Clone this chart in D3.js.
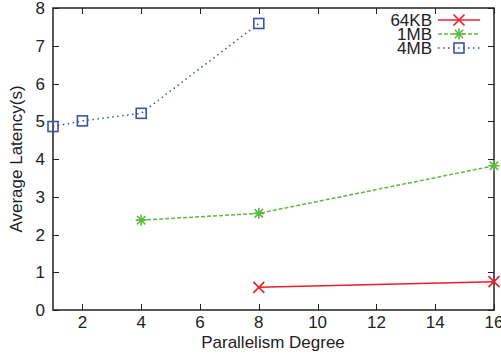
<!DOCTYPE html>
<html><head><meta charset="utf-8">
<script src="https://cdn.jsdelivr.net/npm/d3@7"></script>
<style>body{margin:0;background:#fff}svg{display:block}</style>
</head><body><svg id="c" width="501" height="357"></svg>
<script>
const seriesNames = ["64KB", "1MB", "4MB"];
const x64KB = [8, 16];
const y64KB = [0.60, 0.75];
const x1MB = [4, 8, 16];
const y1MB = [2.38, 2.56, 3.82];
const x4MB = [1, 2, 4, 8];
const y4MB = [4.86, 5.01, 5.21, 7.59];
const xTicks = [2, 4, 6, 8, 10, 12, 14, 16];
const yTicks = [0, 1, 2, 3, 4, 5, 6, 7, 8];

const colors = {"64KB": "#ec1f27", "1MB": "#5eb940", "4MB": "#3a55a8"};
const dashes = {"64KB": null, "1MB": "4,2", "4MB": "1.5,3.5"};
const markers = {"64KB": "x", "1MB": "star", "4MB": "square"};
const data = {
  "64KB": x64KB.map((x, i) => ({x, y: y64KB[i]})),
  "1MB": x1MB.map((x, i) => ({x, y: y1MB[i]})),
  "4MB": x4MB.map((x, i) => ({x, y: y4MB[i]}))
};

const svg = d3.select("#c");
const font = "'Liberation Sans', Arial, Helvetica, sans-serif";
const fs = 17;
const L = 53, R = 494, T = 8, B = 310;
const xs = d3.scaleLinear().domain([1, 16]).range([L, R]);
const ys = d3.scaleLinear().domain([0, 8]).range([B, T]);

const tl = 6;
const tg = svg.append("g").attr("stroke", "#222").attr("stroke-width", 1);
xTicks.forEach(t => {
  const x = Math.round(xs(t)) + 0.5;
  tg.append("line").attr("x1", x).attr("x2", x).attr("y1", B).attr("y2", B - tl);
  tg.append("line").attr("x1", x).attr("x2", x).attr("y1", T).attr("y2", T + tl);
});
yTicks.forEach(t => {
  const y = Math.round(ys(t)) + 0.5;
  tg.append("line").attr("x1", L).attr("x2", L + tl).attr("y1", y).attr("y2", y);
  tg.append("line").attr("x1", R).attr("x2", R - tl).attr("y1", y).attr("y2", y);
});
svg.append("rect").attr("x", L).attr("y", T).attr("width", R - L).attr("height", B - T)
  .attr("fill", "none").attr("stroke", "#222").attr("stroke-width", 1.5);

svg.append("g").selectAll("text").data(xTicks).join("text")
  .attr("x", d => xs(d)).attr("y", 328).attr("text-anchor", "middle")
  .attr("font-family", font).attr("font-size", fs).attr("fill", "#222").text(d => d);
svg.append("g").selectAll("text").data(yTicks).join("text")
  .attr("x", 45).attr("y", d => ys(d) + 6).attr("text-anchor", "end")
  .attr("font-family", font).attr("font-size", fs).attr("fill", "#222").text(d => d);

svg.append("text").attr("x", 273).attr("y", 347.5).attr("text-anchor", "middle")
  .attr("font-family", font).attr("font-size", fs).attr("fill", "#222").text("Parallelism Degree");
svg.append("text").attr("transform", "translate(22,159) rotate(-90)").attr("text-anchor", "middle")
  .attr("font-family", font).attr("font-size", fs).attr("fill", "#222").text("Average Latency(s)");

function marker(g, type, x, y, c) {
  const s = 5.5;
  if (type === "x") {
    g.append("path").attr("d", `M${x-s},${y-s}L${x+s},${y+s}M${x-s},${y+s}L${x+s},${y-s}`)
      .attr("stroke", c).attr("stroke-width", 1.6).attr("fill", "none");
  } else if (type === "star") {
    const d = 4.2;
    g.append("path").attr("d", `M${x-s},${y}L${x+s},${y}M${x},${y-s}L${x},${y+s}M${x-d},${y-d}L${x+d},${y+d}M${x-d},${y+d}L${x+d},${y-d}`)
      .attr("stroke", c).attr("stroke-width", 1.6).attr("fill", "none");
  } else {
    g.append("rect").attr("x", x - 5).attr("y", y - 5).attr("width", 10).attr("height", 10)
      .attr("stroke", c).attr("stroke-width", 1.6).attr("fill", "none");
  }
}

const line = d3.line().x(d => xs(d.x)).y(d => ys(d.y));
seriesNames.forEach(n => {
  const g = svg.append("g");
  g.append("path").datum(data[n]).attr("d", line).attr("fill", "none")
    .attr("stroke", colors[n]).attr("stroke-width", 1.5)
    .attr("stroke-dasharray", dashes[n]);
  data[n].forEach(d => marker(g, markers[n], xs(d.x), ys(d.y), colors[n]));
});

const legY = [20, 34, 48];
seriesNames.forEach((n, i) => {
  const g = svg.append("g");
  g.append("text").attr("x", 432).attr("y", legY[i] + 6).attr("text-anchor", "end")
    .attr("font-family", font).attr("font-size", fs).attr("fill", "#222").text(n);
  g.append("line").attr("x1", 438).attr("x2", 480).attr("y1", legY[i]).attr("y2", legY[i])
    .attr("stroke", colors[n]).attr("stroke-width", 1.5).attr("stroke-dasharray", dashes[n]);
  marker(g, markers[n], 459, legY[i], colors[n]);
});
</script></body></html>
